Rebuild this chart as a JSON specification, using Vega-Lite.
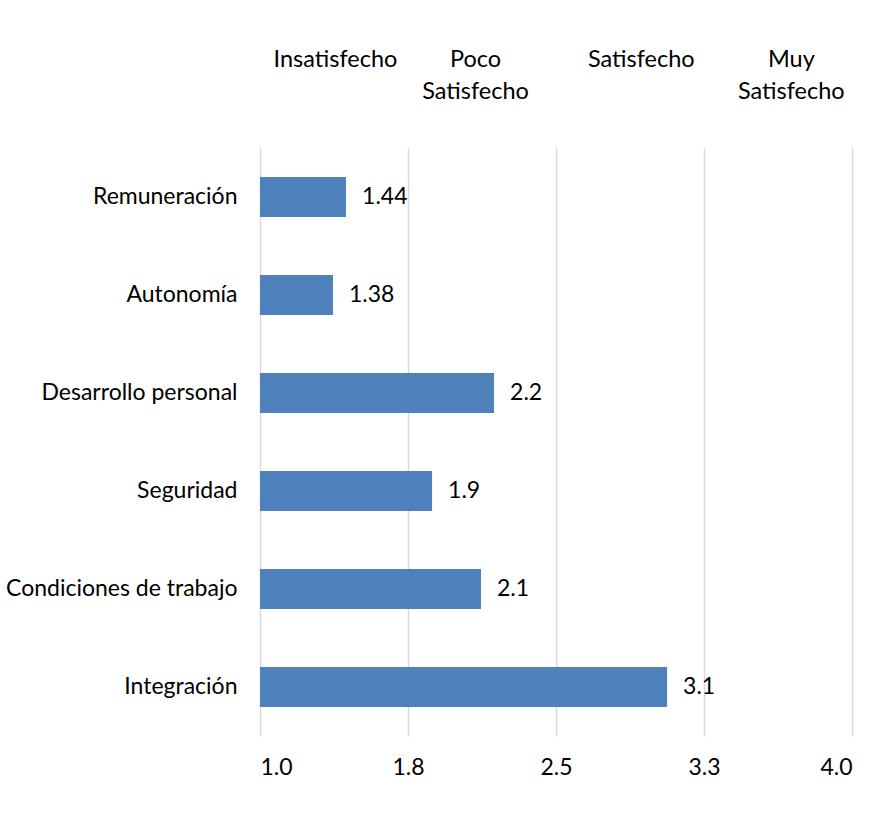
{
  "$schema": "https://vega.github.io/schema/vega-lite/v6.json",
  "width": 592,
  "height": 588,
  "autosize": "none",
  "padding": {"left": 260, "top": 148, "right": 31, "bottom": 87},
  "background": "white",
  "config": {
    "font": "Lato",
    "view": {"stroke": null},
    "axis": {"labelFont": "Lato", "labelFontSize": 23, "labelColor": "#000000", "domain": false, "ticks": false}
  },
  "data": {
    "values": [
      {"cat": "Remuneración", "value": 1.436, "label": "1.44"},
      {"cat": "Autonomía", "value": 1.37, "label": "1.38"},
      {"cat": "Desarrollo personal", "value": 2.186, "label": "2.2"},
      {"cat": "Seguridad", "value": 1.872, "label": "1.9"},
      {"cat": "Condiciones de trabajo", "value": 2.12, "label": "2.1"},
      {"cat": "Integración", "value": 3.063, "label": "3.1"}
    ]
  },
  "encoding": {
    "y": {
      "field": "cat",
      "type": "nominal",
      "sort": null,
      "scale": {"paddingInner": 0.59, "paddingOuter": 0.295},
      "axis": {"title": null, "labelPadding": 23, "grid": false, "labelLimit": 300}
    }
  },
  "layer": [
    {
      "mark": {"type": "bar", "color": "#4f81bd"},
      "encoding": {
        "x": {
          "field": "value",
          "type": "quantitative",
          "scale": {"domain": [1, 4], "nice": false, "zero": false},
          "axis": {
            "title": null,
            "orient": "bottom",
            "values": [1, 1.75, 2.5, 3.25, 4],
            "format": ".1f",
            "grid": true,
            "gridColor": "#d9d9d9",
            "gridWidth": 1.5,
            "labelPadding": 20
          }
        },
        "x2": {"datum": 1}
      }
    },
    {
      "mark": {"type": "text", "align": "left", "baseline": "middle", "dx": 16, "fontSize": 23, "color": "#000000"},
      "encoding": {
        "x": {
          "field": "value",
          "type": "quantitative",
          "axis": {
            "title": null,
            "orient": "top",
            "values": [1.38, 2.09, 2.93, 3.69],
            "grid": false,
            "labelBaseline": "top",
            "labelPadding": 101,
            "labelLineHeight": 32,
            "labelFontSize": 23.5,
            "labelExpr": "datum.value < 1.5 ? 'Insatisfecho' : datum.value < 2.5 ? ['Poco', 'Satisfecho'] : datum.value < 3.2 ? 'Satisfecho' : ['Muy', 'Satisfecho']"
          }
        },
        "text": {"field": "label"}
      }
    }
  ],
  "resolve": {"axis": {"x": "independent"}}
}
